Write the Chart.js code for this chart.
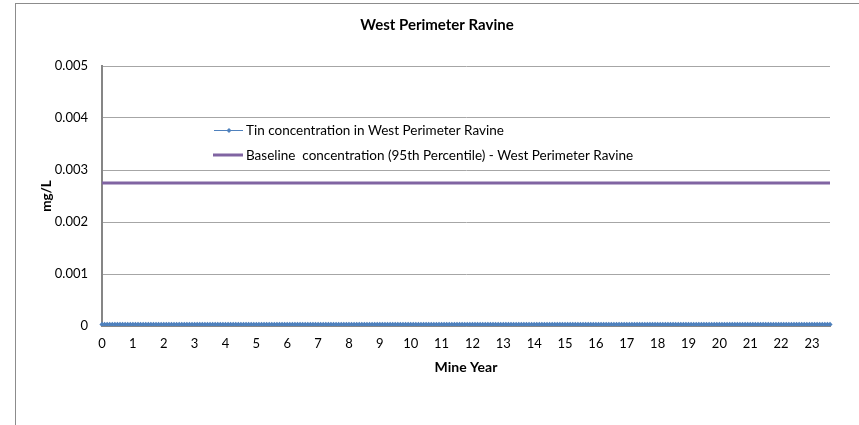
<!DOCTYPE html>
<html>
<head>
<meta charset="utf-8">
<script src="https://cdn.jsdelivr.net/npm/chart.js@4"></script>
<style>
  html, body { margin: 0; padding: 0; background: #fff; }
  #wrap { width: 859px; height: 425px; position: relative; }
</style>
</head>
<body>
<div id="wrap"><canvas id="myChart" width="859" height="425"></canvas></div>
<script>
// mine year tick labels (one per 12 monthly points)
const yearTicks = ["0", "1", "2", "3", "4", "5", "6", "7", "8", "9", "10", "11",
  "12", "13", "14", "15", "16", "17", "18", "19", "20", "21", "22", "23"];

// monthly tin concentration (mg/L), year 0 .. year 23 (+7 months)
const tinValues = [
  0.00003, 0.00003, 0.00003, 0.00003, 0.00003, 0.00003, 0.00003, 0.00003, 0.00003, 0.00003, 0.00003, 0.00003,
  0.00003, 0.00003, 0.00003, 0.00003, 0.00003, 0.00003, 0.00003, 0.00003, 0.00003, 0.00003, 0.00003, 0.00003,
  0.00003, 0.00003, 0.00003, 0.00003, 0.00003, 0.00003, 0.00003, 0.00003, 0.00003, 0.00003, 0.00003, 0.00003,
  0.00003, 0.00003, 0.00003, 0.00003, 0.00003, 0.00003, 0.00003, 0.00003, 0.00003, 0.00003, 0.00003, 0.00003,
  0.00003, 0.00003, 0.00003, 0.00003, 0.00003, 0.00003, 0.00003, 0.00003, 0.00003, 0.00003, 0.00003, 0.00003,
  0.00003, 0.00003, 0.00003, 0.00003, 0.00003, 0.00003, 0.00003, 0.00003, 0.00003, 0.00003, 0.00003, 0.00003,
  0.00003, 0.00003, 0.00003, 0.00003, 0.00003, 0.00003, 0.00003, 0.00003, 0.00003, 0.00003, 0.00003, 0.00003,
  0.00003, 0.00003, 0.00003, 0.00003, 0.00003, 0.00003, 0.00003, 0.00003, 0.00003, 0.00003, 0.00003, 0.00003,
  0.00003, 0.00003, 0.00003, 0.00003, 0.00003, 0.00003, 0.00003, 0.00003, 0.00003, 0.00003, 0.00003, 0.00003,
  0.00003, 0.00003, 0.00003, 0.00003, 0.00003, 0.00003, 0.00003, 0.00003, 0.00003, 0.00003, 0.00003, 0.00003,
  0.00003, 0.00003, 0.00003, 0.00003, 0.00003, 0.00003, 0.00003, 0.00003, 0.00003, 0.00003, 0.00003, 0.00003,
  0.00003, 0.00003, 0.00003, 0.00003, 0.00003, 0.00003, 0.00003, 0.00003, 0.00003, 0.00003, 0.00003, 0.00003,
  0.00003, 0.00003, 0.00003, 0.00003, 0.00003, 0.00003, 0.00003, 0.00003, 0.00003, 0.00003, 0.00003, 0.00003,
  0.00003, 0.00003, 0.00003, 0.00003, 0.00003, 0.00003, 0.00003, 0.00003, 0.00003, 0.00003, 0.00003, 0.00003,
  0.00003, 0.00003, 0.00003, 0.00003, 0.00003, 0.00003, 0.00003, 0.00003, 0.00003, 0.00003, 0.00003, 0.00003,
  0.00003, 0.00003, 0.00003, 0.00003, 0.00003, 0.00003, 0.00003, 0.00003, 0.00003, 0.00003, 0.00003, 0.00003,
  0.00003, 0.00003, 0.00003, 0.00003, 0.00003, 0.00003, 0.00003, 0.00003, 0.00003, 0.00003, 0.00003, 0.00003,
  0.00003, 0.00003, 0.00003, 0.00003, 0.00003, 0.00003, 0.00003, 0.00003, 0.00003, 0.00003, 0.00003, 0.00003,
  0.00003, 0.00003, 0.00003, 0.00003, 0.00003, 0.00003, 0.00003, 0.00003, 0.00003, 0.00003, 0.00003, 0.00003,
  0.00003, 0.00003, 0.00003, 0.00003, 0.00003, 0.00003, 0.00003, 0.00003, 0.00003, 0.00003, 0.00003, 0.00003,
  0.00003, 0.00003, 0.00003, 0.00003, 0.00003, 0.00003, 0.00003, 0.00003, 0.00003, 0.00003, 0.00003, 0.00003,
  0.00003, 0.00003, 0.00003, 0.00003, 0.00003, 0.00003, 0.00003, 0.00003, 0.00003, 0.00003, 0.00003, 0.00003,
  0.00003, 0.00003, 0.00003, 0.00003, 0.00003, 0.00003, 0.00003, 0.00003, 0.00003, 0.00003, 0.00003, 0.00003,
  0.00003, 0.00003, 0.00003, 0.00003, 0.00003, 0.00003, 0.00003, 0.00003
];

// baseline 95th percentile (mg/L)
const baselineValue = [0.00275];

const seriesNames = [
  "Tin concentration in West Perimeter Ravine",
  "Baseline  concentration (95th Percentile) - West Perimeter Ravine"
];
const chartTitle = "West Perimeter Ravine";

const monthIndex = tinValues.map((v, i) => i);
const lastMonth = monthIndex[monthIndex.length - 1];

const blue = "#4F81BD";
const purple = "#8064A2";
const fontName = "Lato, 'Liberation Sans', sans-serif";

// outer frame, title and legend drawn like the excel chart
const excelDecor = {
  id: "excelDecor",
  beforeDraw(chart) {
    const ctx = chart.ctx;
    ctx.save();
    ctx.fillStyle = "#fff";
    ctx.fillRect(0, 0, chart.width, chart.height);
    ctx.strokeStyle = "#8c8c8c";
    ctx.lineWidth = 1;
    ctx.strokeRect(15.5, 3.5, 900, 500);
    ctx.restore();
  },
  afterDraw(chart) {
    const ctx = chart.ctx;
    ctx.save();
    ctx.fillStyle = "#000";
    ctx.textBaseline = "middle";
    ctx.textAlign = "center";
    ctx.font = "bold 15px " + fontName;
    ctx.fillText(chartTitle, 437, 25);

    // legend
    ctx.textAlign = "left";
    ctx.font = "13.5px " + fontName;
    ctx.strokeStyle = blue;
    ctx.lineWidth = 1;
    ctx.beginPath();
    ctx.moveTo(214, 130.5);
    ctx.lineTo(243, 130.5);
    ctx.stroke();
    ctx.fillStyle = blue;
    ctx.beginPath();
    ctx.moveTo(229, 128);
    ctx.lineTo(231.5, 130.5);
    ctx.lineTo(229, 133);
    ctx.lineTo(226.5, 130.5);
    ctx.closePath();
    ctx.fill();
    ctx.fillStyle = "#000";
    ctx.fillText(seriesNames[0], 246, 131);

    ctx.strokeStyle = purple;
    ctx.lineWidth = 3;
    ctx.beginPath();
    ctx.moveTo(213, 155);
    ctx.lineTo(243, 155);
    ctx.stroke();
    ctx.fillText(seriesNames[1], 246, 156);
    ctx.restore();
  }
};

new Chart(document.getElementById("myChart"), {
  type: "line",
  data: {
    labels: monthIndex,
    datasets: [
      {
        label: seriesNames[1],
        data: [{ x: 0, y: baselineValue[0] }, { x: lastMonth, y: baselineValue[0] }],
        borderColor: purple,
        borderWidth: 3,
        pointRadius: 0,
        order: 2
      },
      {
        label: seriesNames[0],
        data: tinValues,
        borderColor: blue,
        backgroundColor: blue,
        borderWidth: 2,
        pointStyle: "rectRot",
        pointRadius: 2.6,
        pointBorderWidth: 0,
        order: 1
      }
    ]
  },
  options: {
    responsive: false,
    animation: false,
    events: [],
    layout: { padding: { left: 0, right: 29, top: 66, bottom: 39 } },
    plugins: {
      legend: { display: false },
      title: { display: false },
      tooltip: { enabled: false }
    },
    scales: {
      x: {
        type: "category",
        offset: false,
        grid: { display: false, drawTicks: false },
        border: { display: true, color: "#868686", width: 1 },
        ticks: {
          autoSkip: false,
          maxRotation: 0,
          minRotation: 0,
          padding: 10,
          color: "#000",
          font: { family: fontName, size: 13 },
          callback: (value, index) => (index % 12 === 0 ? yearTicks[index / 12] : null)
        },
        title: {
          display: true,
          text: "Mine Year",
          color: "#000",
          font: { family: fontName, size: 14, weight: "bold" },
          padding: { top: 0, bottom: 10 }
        },
        afterFit: (scale) => { scale.height = 60; }
      },
      y: {
        min: 0,
        max: 0.005,
        ticks: {
          stepSize: 0.001,
          padding: 14,
          color: "#000",
          font: { family: fontName, size: 13 }
        },
        grid: { color: "#a6a6a6", lineWidth: 1, drawTicks: false },
        border: { display: true, color: "#868686", width: 2 },
        title: {
          display: true,
          text: "mg/L",
          color: "#000",
          font: { family: fontName, size: 13.5, weight: "bold" },
          padding: { top: 39, bottom: 0 }
        },
        afterFit: (scale) => { scale.width = 102; }
      }
    }
  },
  plugins: [excelDecor]
});
</script>
</body>
</html>
